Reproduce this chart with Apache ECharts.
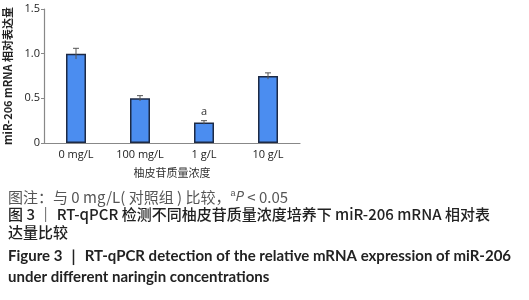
<!DOCTYPE html>
<html><head><meta charset="utf-8">
<script src="https://cdn.jsdelivr.net/npm/echarts@6/dist/echarts.min.js"></script>
<style>html,body{margin:0;padding:0;background:#fff}#c{width:529px;height:300px}</style>
</head><body><div id="c"></div>
<script>
var categories = ['0 mg/L', '100 mg/L', '1 g/L', '10 g/L'];
var values = [1.0, 0.5, 0.23, 0.75];
var errors = [0.06, 0.03, 0.02, 0.035];
var marks = ['', '', 'a', ''];
var yTicks = [0, 0.5, 1.0, 1.5];
var yTickLabels = ['0', '0.5', '1.0', '1.5'];

var chart = echarts.init(document.getElementById('c'));
var errData = values.map(function (v, i) { return [i, v - errors[i], v + errors[i], marks[i]]; });
var cap = 'Open Sans';
chart.setOption({
  animation: false,
  grid: { left: 44, right: 229, top: 9, bottom: 157 },
  xAxis: {
    type: 'category', data: categories,
    axisLine: { lineStyle: { color: '#888', width: 1.2 } },
    axisTick: { show: false },
    axisLabel: { color: '#222', fontSize: 11, fontFamily: cap, margin: 6 },
    name: '柚皮苷质量浓度', nameLocation: 'middle', nameGap: 24,
    nameTextStyle: { color: '#333', fontSize: 11, fontFamily: 'Noto Sans CJK SC' }
  },
  yAxis: {
    type: 'value', min: 0, max: 1.5, interval: 0.5,
    splitLine: { show: false },
    axisLine: { show: true, lineStyle: { color: '#888', width: 1.2 } },
    axisTick: { show: true, length: 3, lineStyle: { color: '#888' } },
    axisLabel: { color: '#222', fontSize: 11, fontFamily: cap, margin: 4,
      formatter: function (v) { var i = yTicks.indexOf(v); return i >= 0 ? yTickLabels[i] : ''; } },
    name: 'miR-206 mRNA 相对表达量', nameLocation: 'middle', nameGap: 31, nameRotate: 90,
    nameTextStyle: { color: '#222', fontSize: 11, fontWeight: 'bold', fontFamily: 'Noto Sans CJK SC' }
  },
  series: [{
    type: 'bar', data: values, barWidth: 20,
    itemStyle: { color: '#4b8df0', borderColor: '#1d2a45', borderWidth: 1.5 }
  }, {
    type: 'custom', data: errData,
    renderItem: function (params, api) {
      var x = api.coord([api.value(0), 0])[0];
      var lo = api.coord([api.value(0), api.value(1)]);
      var hi = api.coord([api.value(0), api.value(2)]);
      var w = 3;
      var ls = { stroke: '#555', lineWidth: 1 };
      var ch = [
        { type: 'line', shape: { x1: x, y1: lo[1], x2: x, y2: hi[1] }, style: ls },
        { type: 'line', shape: { x1: x - w, y1: hi[1], x2: x + w, y2: hi[1] }, style: ls }
      ];
      var m = errData[params.dataIndex][3];
      if (m) ch.push({ type: 'text', style: { text: m, x: x, y: hi[1] - 3, textAlign: 'center', textVerticalAlign: 'bottom', fill: '#333', font: '11px "Open Sans"' } });
      return { type: 'group', children: ch };
    },
    z: 10
  }],
  graphic: [
    { type: 'text', left: 8, top: 189, style: {
      text: '图注：与 0 mg/L( 对照组 ) 比较，{sup|a}{it|P} < 0.05',
      fill: '#555', font: '15px "Noto Sans CJK SC"',
      rich: { sup: { fontSize: 9, verticalAlign: 'top', fill: '#555', padding: [0, 0, 7, 0] }, it: { fontStyle: 'italic', fontSize: 15, fill: '#555', fontFamily: 'Open Sans' } } } },
    { type: 'text', left: 8, top: 207, style: {
      text: '图 3 ｜ RT-qPCR 检测不同柚皮苷质量浓度培养下 miR-206 mRNA 相对表', fill: '#222', font: '500 15px "Noto Sans CJK SC"' } },
    { type: 'text', left: 8, top: 225, style: {
      text: '达量比较', fill: '#222', font: '500 15px "Noto Sans CJK SC"' } },
    { type: 'text', left: 8, top: 249, style: {
      text: 'Figure 3 ｜ RT-qPCR detection of the relative mRNA expression of miR-206', fill: '#222', font: 'bold 15px "Lato"' } },
    { type: 'text', left: 8, top: 270, style: {
      text: 'under different naringin concentrations', fill: '#222', font: 'bold 15px "Lato"' } }
  ]
});
</script></body></html>
